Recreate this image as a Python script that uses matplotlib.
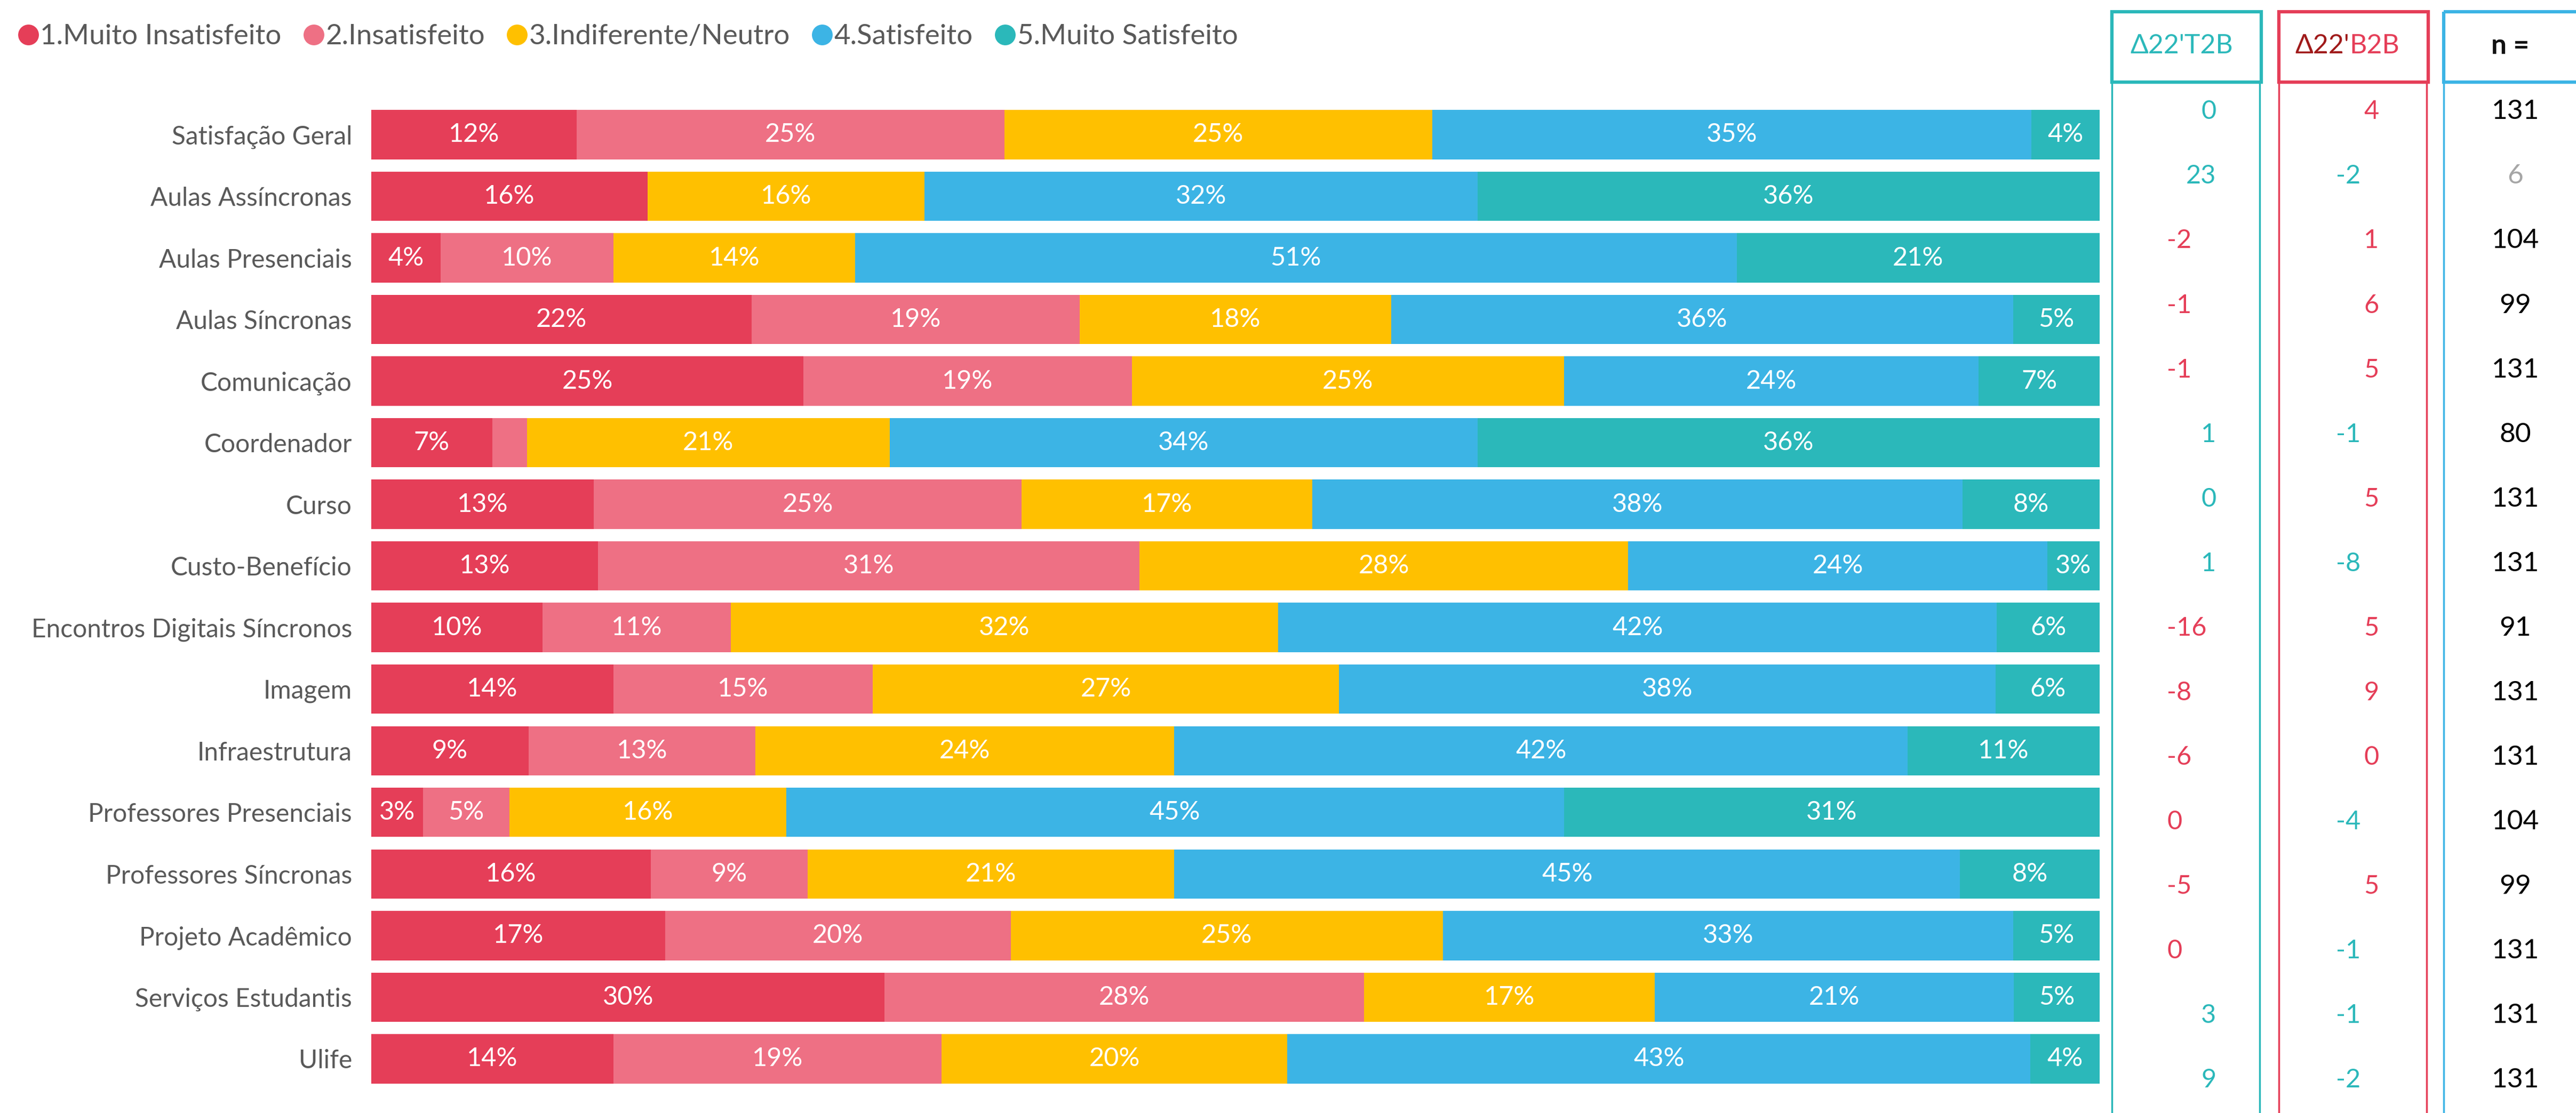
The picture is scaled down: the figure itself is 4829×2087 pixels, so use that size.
import matplotlib
matplotlib.use("Agg")
import matplotlib.pyplot as plt
from matplotlib.lines import Line2D
from matplotlib.patches import Rectangle

plt.rcParams['font.family'] = ['Lato', 'DejaVu Sans']

categories = ["Satisfação Geral", "Aulas Assíncronas", "Aulas Presenciais", "Aulas Síncronas",
              "Comunicação", "Coordenador", "Curso", "Custo-Benefício",
              "Encontros Digitais Síncronos", "Imagem", "Infraestrutura",
              "Professores Presenciais", "Professores Síncronas", "Projeto Acadêmico",
              "Serviços Estudantis", "Ulife"]

levels = ["1.Muito Insatisfeito", "2.Insatisfeito", "3.Indiferente/Neutro",
          "4.Satisfeito", "5.Muito Satisfeito"]
colors = ["#E53E58", "#EE7084", "#FFC000", "#3CB4E5", "#2BB8BA"]

muito_insat = [12, 16, 4, 22, 25, 7, 13, 13, 10, 14, 9, 3, 16, 17, 30, 14]
insat = [25, 0, 10, 19, 19, 2, 25, 31, 11, 15, 13, 5, 9, 20, 28, 19]
neutro = [25, 16, 14, 18, 25, 21, 17, 28, 32, 27, 24, 16, 21, 25, 17, 20]
satisf = [35, 32, 51, 36, 24, 34, 38, 24, 42, 38, 42, 45, 45, 33, 21, 43]
muito_satisf = [4, 36, 21, 5, 7, 36, 8, 3, 6, 6, 11, 31, 8, 5, 5, 4]

delta_t2b = [0, 23, -2, -1, -1, 1, 0, 1, -16, -8, -6, -0.4, -5, -0.4, 3, 9]
delta_b2b = [4, -2, 1, 6, 5, -1, 5, -8, 5, 9, 0.3, -4, 5, -1, -1, -2]
n_resp = [131, 6, 104, 99, 131, 80, 131, 131, 91, 131, 131, 104, 99, 131, 131, 131]

series = [muito_insat, insat, neutro, satisf, muito_satisf]

TEAL = "#2BB8BA"
RED = "#E53E58"
DARKRED = "#A01A1A"
BLUE = "#3CB4E5"
GREY = "#595959"

W, H = 1568, 678  # layout units (reference preview pixels)
fig = plt.figure(figsize=(48.29, 20.87), dpi=100)

ax = fig.add_axes([226 / W, 1 - 663.75 / H, (1278 - 226) / W, 600.5 / H])
rows = list(range(len(categories)))
totals = [sum(s[i] for s in series) for i in rows]
left = [0.0] * len(rows)
for vals, col in zip(series, colors):
    widths = [v / t * 100 for v, t in zip(vals, totals)]
    ax.barh(rows, widths, left=left, height=0.8, color=col, edgecolor="none")
    for i, (v, w, l) in enumerate(zip(vals, widths, left)):
        if v >= 3:
            ax.text(l + w / 2, i, f"{v}%", ha="center", va="center",
                    color="white", fontsize=35)
    left = [l + w for l, w in zip(left, widths)]

ax.set_xlim(0, 100)
ax.set_ylim(len(rows) - 0.5, -0.5)
ax.set_yticks(rows)
ax.set_yticklabels(categories, fontsize=34.5, color=GREY)
ax.tick_params(axis="y", length=0, pad=26)
ax.set_xticks([])
for sp in ax.spines.values():
    sp.set_visible(False)

# legend
handles = [Line2D([], [], marker="o", linestyle="none", markersize=28,
                  markerfacecolor=c, markeredgecolor="none") for c in colors]
fig.legend(handles, levels, loc="upper left", bbox_to_anchor=(0.0, 0.996), ncol=5,
           frameon=False, fontsize=38, labelcolor=GREY, handlelength=0.6,
           handletextpad=0.12, columnspacing=0.85, borderaxespad=0.3)

# side columns
ov = fig.add_axes([0, 0, 1, 1], zorder=5)
ov.set_xlim(0, W)
ov.set_ylim(H, 0)
ov.axis("off")
ov.patch.set_alpha(0)

boxes = [(1285.5, 1376.5, TEAL), (1387, 1478, RED), (1487.5, 1620, BLUE)]
for x0, x1, col in boxes:
    ov.add_patch(Rectangle((x0, 7), x1 - x0, 43, fill=False, edgecolor=col,
                           linewidth=4.5, clip_on=False))
    ov.plot([x0, x0], [50, H + 5], color=col, linewidth=2.5, clip_on=False)
    ov.plot([x1 - 1, x1 - 1], [50, H + 5], color=col, linewidth=2.5, clip_on=False)

ov.text(1328, 28, "Δ22'T2B", ha="center", va="center", color=TEAL, fontsize=36)
ov.text(1430, 28, "Δ22'", ha="right", va="center", color=DARKRED, fontsize=36)
ov.text(1430, 28, "B2B", ha="left", va="center", color=RED, fontsize=36)
ov.text(1528, 28, "n =", ha="center", va="center", color="#111111", fontsize=37,
        fontweight="bold")

row_top, row_step = 68, (658 - 68) / 15
for i in rows:
    y = row_top + i * row_step
    v = delta_t2b[i]
    if v >= 0:
        ov.text(1349, y, f"{round(v)}", ha="right", va="center", color=TEAL, fontsize=35)
    else:
        ov.text(1319, y, f"{round(v)}", ha="left", va="center", color=RED, fontsize=35)
    v = delta_b2b[i]
    if v > 0:
        ov.text(1448, y, f"{round(v)}", ha="right", va="center", color=RED, fontsize=35)
    else:
        ov.text(1422, y, f"{round(v)}", ha="left", va="center", color=TEAL, fontsize=35)
    ov.text(1531, y, f"{n_resp[i]}", ha="center", va="center", fontsize=37,
            color="#A6A6A6" if n_resp[i] < 30 else "black")

fig.savefig("out.png", dpi=100)
